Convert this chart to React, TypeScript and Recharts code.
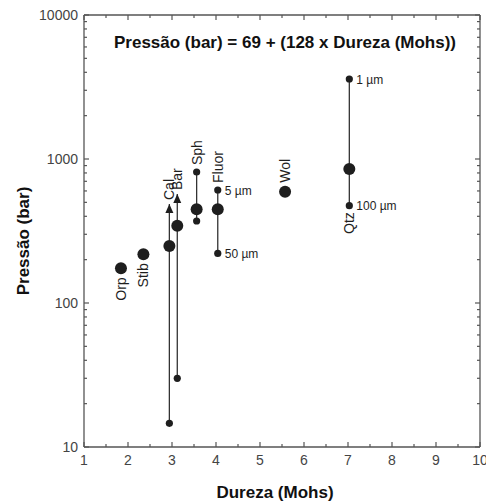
import React from "react";
import { ScatterChart, Scatter, XAxis, YAxis } from "recharts";

// mineral, hardness (Mohs) and pressure (bar)
const minerals = ["Orp", "Stib", "Cal", "Bar", "Sph", "Fluor", "Wol", "Qtz"];
const hardness = [1.84, 2.35, 2.94, 3.12, 3.56, 4.04, 5.57, 7.03];
const pressure = [174, 218, 249, 344, 448, 448, 593, 853];

// vertical ranges (null = no range)
const rangeLow = [null, null, 14.6, 30, 371, 221, null, 474];
const rangeHigh = [null, null, 487, 571, 812, 609, null, 3593];
const rangeLowText = ["", "", "", "", "", "50 µm", "", "100 µm"];
const rangeHighText = ["", "", "", "", "", "5 µm", "", "1 µm"];
const arrowTop = ["Cal", "Bar"];
const labelBelow = ["Orp", "Stib", "Qtz"];

const xTicks = [1, 1.5, 2, 2.5, 3, 3.5, 4, 4.5, 5, 5.5, 6, 6.5, 7, 7.5, 8, 8.5, 9, 9.5, 10];
const yTicks = [
  10, 20, 30, 40, 50, 60, 70, 80, 90,
  100, 200, 300, 400, 500, 600, 700, 800, 900,
  1000, 2000, 3000, 4000, 5000, 6000, 7000, 8000, 9000, 10000,
];
const yTickLabels = [10, 100, 1000, 10000];

const title = "Pressão (bar) = 69 + (128 x Dureza (Mohs))";
const xTitle = "Dureza (Mohs)";
const yTitle = "Pressão (bar)";

const FONT = "'Liberation Sans', Arial, sans-serif";
const AXIS = "#555";
const INK = "#1e1e1e";

const ranges = minerals
  .map((name, i) => ({ name, i }))
  .filter(({ i }) => rangeLow[i] !== null)
  .map(({ name, i }) => [
    { x: hardness[i], y: rangeLow[i], text: rangeLowText[i], arrow: false },
    { x: hardness[i], y: rangeHigh[i], text: rangeHighText[i], arrow: arrowTop.includes(name) },
  ]);

const points = minerals.map((name, i) => ({ name, x: hardness[i], y: pressure[i] }));

const labels = minerals.map((name, i) => {
  const below = labelBelow.includes(name);
  if (below) {
    const hasRange = rangeLow[i] !== null;
    return { name, x: hardness[i], y: hasRange ? rangeLow[i] : pressure[i], below, gap: hasRange ? 6.5 : 9 };
  }
  const hasRange = rangeHigh[i] !== null;
  const arrow = arrowTop.includes(name);
  return {
    name,
    x: hardness[i],
    y: hasRange ? rangeHigh[i] : pressure[i],
    below,
    gap: hasRange ? (arrow ? 4 : 7) : 9,
  };
});

function makeTick(side: string, showLabel: boolean) {
  return (props: any) => {
    const { x, y, payload } = props;
    const v = payload.value;
    const major =
      side === "left" || side === "right" ? yTickLabels.includes(v) : Number.isInteger(v);
    const len = major ? 5 : 3;
    let line;
    if (side === "left") line = <line x1={x} x2={x + len} y1={y} y2={y} />;
    else if (side === "right") line = <line x1={x} x2={x - len} y1={y} y2={y} />;
    else if (side === "bottom") line = <line x1={x} x2={x} y1={y} y2={y - len} />;
    else line = <line x1={x} x2={x} y1={y} y2={y + len} />;
    return (
      <g>
        <g stroke={AXIS} strokeWidth={1.2}>{line}</g>
        {showLabel && major && side === "left" && (
          <text x={x - 6} y={y} dy={5} textAnchor="end" fontSize={14} fill="#444" fontFamily={FONT}>
            {v}
          </text>
        )}
        {showLabel && major && side === "bottom" && (
          <text x={x} y={y + 18} textAnchor="middle" fontSize={14} fill="#444" fontFamily={FONT}>
            {v}
          </text>
        )}
      </g>
    );
  };
}

const RangeEnd = (props: any) => {
  const { cx, cy, payload } = props;
  return (
    <g>
      {payload.arrow ? (
        <polygon points={`${cx},${cy} ${cx - 4},${cy + 9} ${cx + 4},${cy + 9}`} fill={INK} />
      ) : (
        <circle cx={cx} cy={cy} r={3.6} fill={INK} />
      )}
      {payload.text && (
        <text x={cx + 7} y={cy} dy={4.5} fontSize={12} fill={INK} fontFamily={FONT}>
          {payload.text}
        </text>
      )}
    </g>
  );
};

const BigDot = (props: any) => <circle cx={props.cx} cy={props.cy} r={6} fill={INK} />;
const Nothing = () => <g />;

const NameLabel = (props: any) => {
  const { cx, cy, payload } = props;
  const ty = payload.below ? cy + payload.gap : cy - payload.gap;
  return (
    <text
      transform={`translate(${cx + 5},${ty}) rotate(-90)`}
      textAnchor={payload.below ? "end" : "start"}
      fontSize={14}
      fill={INK}
      fontFamily={FONT}
    >
      {payload.name}
    </text>
  );
};

export default function App() {
  return (
    <div style={{ width: 486, height: 501, background: "#fff", overflow: "hidden" }}>
      <style>{`body{margin:0}`}</style>
      <ScatterChart width={486} height={501} margin={{ top: 14, right: 5, bottom: 0, left: 0 }}>
        <XAxis
          dataKey="x"
          type="number"
          domain={[1, 10]}
          ticks={xTicks}
          interval={0}
          height={54}
          axisLine={{ stroke: AXIS, strokeWidth: 1.3 }}
          tickLine={false}
          tickSize={0}
          tickMargin={0}
          tick={makeTick("bottom", true)}
          allowDataOverflow
          label={(p: any) => {
            const vb = p.viewBox;
            return (
              <text x={vb.x + vb.width / 2 - 7} y={vb.y + 51} textAnchor="middle" fontSize={17} fontWeight="bold" fill="#111" fontFamily={FONT}>
                {xTitle}
              </text>
            );
          }}
        />
        <XAxis
          xAxisId="top"
          orientation="top"
          dataKey="x"
          type="number"
          domain={[1, 10]}
          ticks={xTicks}
          interval={0}
          height={1}
          axisLine={{ stroke: AXIS, strokeWidth: 1.3 }}
          tickLine={false}
          tickSize={0}
          tickMargin={0}
          tick={makeTick("top", false)}
          allowDataOverflow
          label={(p: any) => {
            const vb = p.viewBox;
            return (
              <text x={vb.x + vb.width / 2 + 3} y={vb.y + vb.height + 33} textAnchor="middle" fontSize={17} fontWeight="bold" fill="#111" fontFamily={FONT}>
                {title}
              </text>
            );
          }}
        />
        <YAxis
          dataKey="y"
          type="number"
          scale="log"
          domain={[10, 10000]}
          ticks={yTicks}
          interval={0}
          width={84}
          axisLine={{ stroke: AXIS, strokeWidth: 1.3 }}
          tickLine={false}
          tickSize={0}
          tickMargin={0}
          tick={makeTick("left", true)}
          allowDataOverflow
          label={(p: any) => {
            const vb = p.viewBox;
            const cy = vb.y + vb.height / 2 + 10;
            return (
              <text transform={`translate(29,${cy}) rotate(-90)`} textAnchor="middle" fontSize={17} fontWeight="bold" fill="#111" fontFamily={FONT}>
                {yTitle}
              </text>
            );
          }}
        />
        <YAxis
          yAxisId="right"
          orientation="right"
          dataKey="y"
          type="number"
          scale="log"
          domain={[10, 10000]}
          ticks={yTicks}
          interval={0}
          width={1}
          axisLine={{ stroke: AXIS, strokeWidth: 1.3 }}
          tickLine={false}
          tickSize={0}
          tickMargin={0}
          tick={makeTick("right", false)}
          allowDataOverflow
        />
        {ranges.map((r, k) => (
          <Scatter
            key={k}
            data={r}
            line={{ stroke: "#333", strokeWidth: 1.3 }}
            lineType="joint"
            shape={RangeEnd}
            isAnimationActive={false}
          />
        ))}
        <Scatter data={points} shape={BigDot} isAnimationActive={false} />
        <Scatter data={labels} shape={NameLabel} isAnimationActive={false} />
        <Scatter data={points} xAxisId="top" yAxisId="right" shape={Nothing} isAnimationActive={false} />
      </ScatterChart>
    </div>
  );
}
